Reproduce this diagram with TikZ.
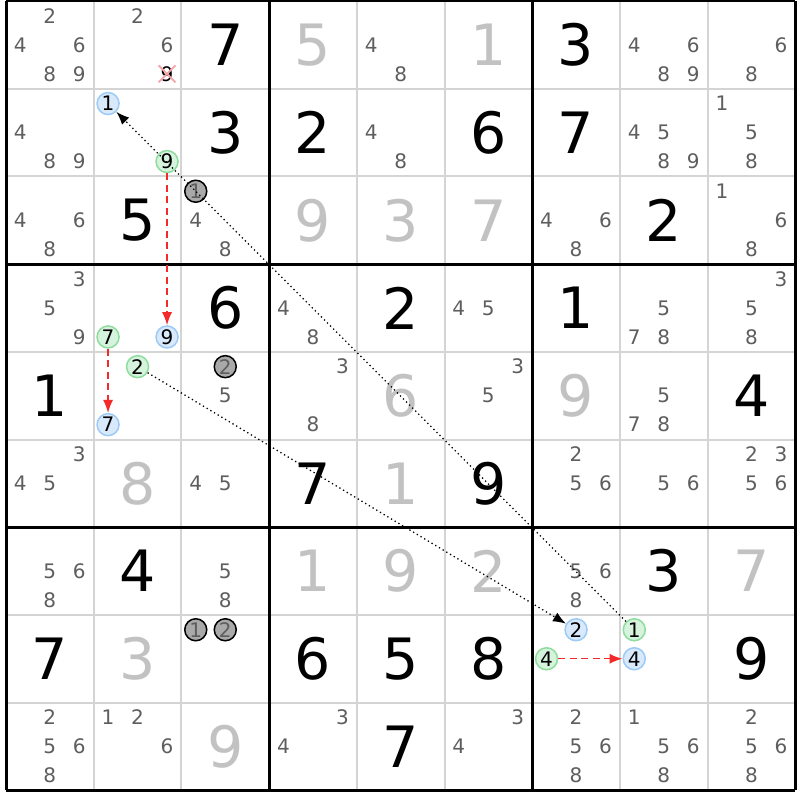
\documentclass[tikz,border=0pt]{standalone}
\usepackage{fontspec}
\setmainfont{DejaVu Sans}
\usetikzlibrary{arrows.meta, shapes.misc}

\definecolor{candgray}{HTML}{5E5E5E}
\definecolor{solvedgray}{HTML}{C2C2C2}
\definecolor{gridgray}{HTML}{D4D4D4}
\definecolor{bluefill}{HTML}{D8E9FB}
\definecolor{blueline}{HTML}{9CCBF6}
\definecolor{greenfill}{HTML}{D6F3DD}
\definecolor{greenline}{HTML}{8FDC9F}
\definecolor{greyfill}{HTML}{A9A9A9}
\definecolor{linkred}{HTML}{F42A2A}
\definecolor{crosspink}{HTML}{F4A3A8}

\newcommand{\digitat}[4]{%
  \pgfmathsetmacro{\cx}{6+(#3+0.5)*87.7+(mod(#4-1,3)-1)*29.5}%
  \pgfmathsetmacro{\cy}{1+(#2+0.5)*87.7+(floor((#4-1)/3)-1)*29}%
  \node[#1] (c#2#3-#4) at (\cx,\cy) {#4};}
\newcommand{\cands}[3]{\foreach \d in {#3} {\digitat{cand}{#1}{#2}{\d}}}
\newcommand{\bigdigit}[4]{%
  \node[#1] (g#2#3) at ({6+(#3+0.5)*87.7},{1+(#2+0.5)*87.7}) {#4};}

\begin{document}
\begin{tikzpicture}[x=1pt, y=-1pt,
        cand/.style={font=\fontsize{20}{20}\selectfont, text=candgray, inner sep=0pt},
        given/.style={font=\fontsize{57}{57}\selectfont, inner sep=0pt},
        solved/.style={given, text=solvedgray},
        spot/.style={circle, minimum size=22pt, inner sep=0pt, line width=1.5pt,
            font=\fontsize{20}{20}\selectfont},
        blue spot/.style={spot, draw=blueline, fill=bluefill},
        green spot/.style={spot, draw=greenline, fill=greenfill},
        grey spot/.style={spot, draw=black, fill=greyfill, text=candgray},
        crossed/.style={cand, text=black, cross out, draw=crosspink, line width=1.8pt,
            minimum size=15pt},
        link/.style={line width=1.3pt, dash pattern=on 1.3pt off 3pt,
            -{Latex[length=13pt,width=10pt]}},
        redlink/.style={linkred, line width=1.4pt, dash pattern=on 7pt off 4.5pt,
            -{Latex[length=13pt,width=10pt]}},
        thin grid/.style={gridgray, line width=2pt},
        thick grid/.style={black, line width=3pt}]

        \fill[white] (0,0) rectangle (800,800);
        \useasboundingbox (0,0) rectangle (800,800);

        \foreach \i in {1,2,4,5,7,8} {
            \draw[thin grid] ({6+\i*87.7},1) -- ({6+\i*87.7},790.3);
            \draw[thin grid] (6,{1+\i*87.7}) -- (795.3,{1+\i*87.7});
        }
        \foreach \i in {0,3,6,9} {
            \draw[thick grid] ({6+\i*87.7},1) -- ({6+\i*87.7},790.3);
            \draw[thick grid] (6,{1+\i*87.7}) -- (795.3,{1+\i*87.7});
        }

        \bigdigit{given}{0}{2}{7}  \bigdigit{given}{0}{6}{3}
        \bigdigit{given}{1}{2}{3}  \bigdigit{given}{1}{3}{2}
        \bigdigit{given}{1}{5}{6}  \bigdigit{given}{1}{6}{7}
        \bigdigit{given}{2}{1}{5}  \bigdigit{given}{2}{7}{2}
        \bigdigit{given}{3}{2}{6}  \bigdigit{given}{3}{4}{2}
        \bigdigit{given}{3}{6}{1}  \bigdigit{given}{4}{0}{1}
        \bigdigit{given}{4}{8}{4}  \bigdigit{given}{5}{3}{7}
        \bigdigit{given}{5}{5}{9}  \bigdigit{given}{6}{1}{4}
        \bigdigit{given}{6}{7}{3}  \bigdigit{given}{7}{0}{7}
        \bigdigit{given}{7}{3}{6}  \bigdigit{given}{7}{4}{5}
        \bigdigit{given}{7}{5}{8}  \bigdigit{given}{7}{8}{9}
        \bigdigit{given}{8}{4}{7}

        \bigdigit{solved}{0}{3}{5} \bigdigit{solved}{0}{5}{1}
        \bigdigit{solved}{2}{3}{9} \bigdigit{solved}{2}{4}{3}
        \bigdigit{solved}{2}{5}{7} \bigdigit{solved}{4}{4}{6}
        \bigdigit{solved}{4}{6}{9} \bigdigit{solved}{5}{1}{8}
        \bigdigit{solved}{5}{4}{1} \bigdigit{solved}{6}{3}{1}
        \bigdigit{solved}{6}{4}{9} \bigdigit{solved}{6}{5}{2}
        \bigdigit{solved}{6}{8}{7} \bigdigit{solved}{7}{1}{3}
        \bigdigit{solved}{8}{2}{9}

        \cands{0}{0}{2,4,6,8,9} \cands{0}{1}{2,6} \cands{0}{4}{4,8}
        \cands{0}{7}{4,6,8,9}   \cands{0}{8}{6,8}
        \cands{1}{0}{4,8,9}     \cands{1}{4}{4,8} \cands{1}{7}{4,5,8,9}
        \cands{1}{8}{1,5,8}
        \cands{2}{0}{4,6,8}     \cands{2}{2}{4,8} \cands{2}{6}{4,6,8}
        \cands{2}{8}{1,6,8}
        \cands{3}{0}{3,5,9}     \cands{3}{3}{4,8} \cands{3}{5}{4,5}
        \cands{3}{7}{5,7,8}     \cands{3}{8}{3,5,8}
        \cands{4}{2}{5}         \cands{4}{3}{3,8} \cands{4}{5}{3,5}
        \cands{4}{7}{5,7,8}
        \cands{5}{0}{3,4,5}     \cands{5}{2}{4,5} \cands{5}{6}{2,5,6}
        \cands{5}{7}{5,6}       \cands{5}{8}{2,3,5,6}
        \cands{6}{0}{5,6,8}     \cands{6}{2}{5,8} \cands{6}{6}{5,6,8}
        \cands{8}{0}{2,5,6,8}   \cands{8}{1}{1,2,6} \cands{8}{3}{3,4}
        \cands{8}{5}{3,4}       \cands{8}{6}{2,5,6,8} \cands{8}{7}{1,5,6,8}
        \cands{8}{8}{2,5,6,8}

        \digitat{crossed}{0}{1}{9}
        \digitat{blue spot}{1}{1}{1}   \digitat{green spot}{1}{1}{9}
        \digitat{grey spot}{2}{2}{1}
        \digitat{green spot}{3}{1}{7}  \digitat{blue spot}{3}{1}{9}
        \digitat{green spot}{4}{1}{2}  \digitat{blue spot}{4}{1}{7}
        \digitat{grey spot}{4}{2}{2}
        \digitat{grey spot}{7}{2}{1}   \digitat{grey spot}{7}{2}{2}
        \digitat{blue spot}{7}{6}{2}   \digitat{green spot}{7}{6}{4}
        \digitat{green spot}{7}{7}{1}  \digitat{blue spot}{7}{7}{4}

        \draw[link]    (c77-1) -- (c11-1);
        \draw[link]    (c41-2) -- (c76-2);
        \draw[redlink] (c11-9) -- (c31-9);
        \draw[redlink] (c31-7) -- (c41-7);
        \draw[redlink] (c76-4) -- (c77-4);

    \end{tikzpicture}
\end{document}
